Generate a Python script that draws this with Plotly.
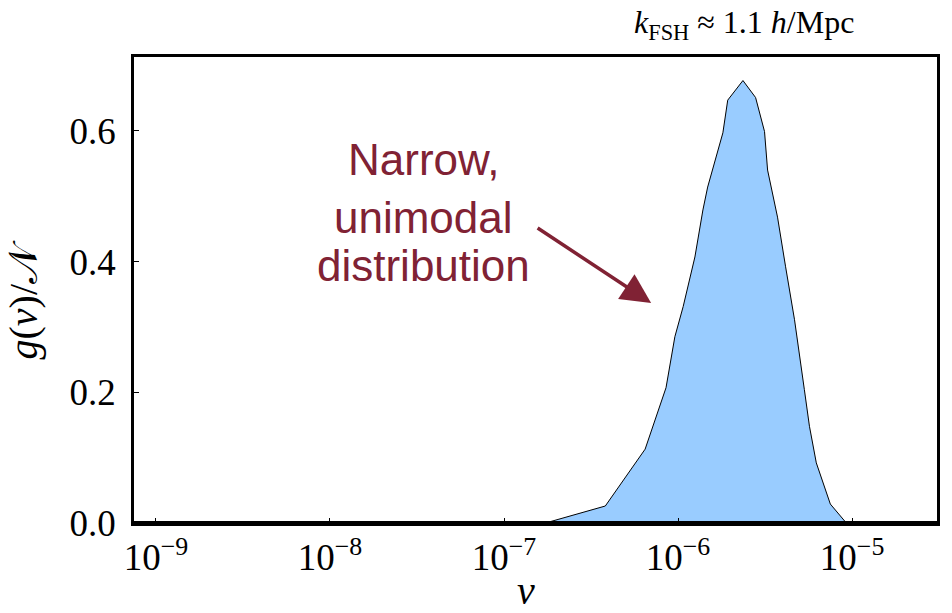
import plotly.graph_objects as go

# Sampled distribution g(v)/N versus v (log-spaced v)
v_values = [1.73e-7, 3.82e-7, 6.47e-7, 8.53e-7, 9.59e-7, 1.07e-6, 1.25e-6, 1.39e-6,
            1.48e-6, 1.81e-6, 1.93e-6, 2.36e-6, 2.79e-6, 3.14e-6, 3.27e-6, 3.73e-6,
            4.15e-6, 4.67e-6, 5.32e-6, 5.69e-6, 6.23e-6, 7.50e-6, 9.27e-6]
g_values = [0.0, 0.026, 0.113, 0.207, 0.285, 0.331, 0.407, 0.479,
            0.514, 0.597, 0.647, 0.677, 0.651, 0.599, 0.540, 0.468,
            0.392, 0.311, 0.204, 0.148, 0.092, 0.029, 0.0]

x_tickvals = [1e-9, 1e-8, 1e-7, 1e-6, 1e-5]
x_ticktext = ["10<sup>−9</sup>", "10<sup>−8</sup>", "10<sup>−7</sup>",
              "10<sup>−6</sup>", "10<sup>−5</sup>"]
y_tickvals = [0.0, 0.2, 0.4, 0.6]

SERIF = "Liberation Serif, DejaVu Serif, serif"
SANS = "Liberation Sans, Arial, sans-serif"
RED = "rgb(128,34,52)"

fig = go.Figure()
fig.add_trace(go.Scatter(
    x=v_values, y=g_values, mode="lines",
    line=dict(color="black", width=1),
    fill="tozeroy", fillcolor="rgb(153,204,255)",
    hoverinfo="skip", showlegend=False,
))

fig.update_layout(
    width=952, height=613,
    margin=dict(l=134, r=12, t=57, b=90),
    paper_bgcolor="white", plot_bgcolor="white",
    xaxis=dict(
        type="log", range=[-9.126, -4.512],
        tickvals=x_tickvals, ticktext=x_ticktext,
        ticks="inside", ticklen=5, tickwidth=1, tickcolor="black",
        showgrid=False, zeroline=False,
        showline=True, linecolor="black", linewidth=2.5, mirror=True,
        tickfont=dict(family=SERIF, size=37, color="black"),
    ),
    yaxis=dict(
        range=[0, 0.713], tickvals=y_tickvals, tickformat=".1f",
        ticks="inside", ticklen=5, tickwidth=1, tickcolor="black",
        showgrid=False, zeroline=False,
        showline=True, linecolor="black", linewidth=2.5, mirror=True,
        tickfont=dict(family=SERIF, size=37, color="black"),
        ticklabelstandoff=8,
    ),
)

# heavier baseline along the bottom of the frame
fig.add_shape(type="line", xref="paper", yref="paper", x0=0, x1=1, y0=0, y1=0,
              line=dict(color="black", width=4))

annotations = [
    dict(text="<i>k</i><sub>FSH</sub> ≈ 1.1 <i>h</i>/Mpc", x=0.76, y=1.07,
         font=dict(family=SERIF, size=32, color="black")),
    dict(text="<i>v</i>", x=0.488, y=-0.145,
         font=dict(family=SERIF, size=40, color="black")),
    dict(text="<i>g</i>(<i>v</i>)/𝒩", x=-0.138, y=0.48, textangle=-90,
         font=dict(family=SERIF, size=40, color="black")),
    dict(text="Narrow,", x=0.361, y=0.781, font=dict(family=SANS, size=44, color=RED)),
    dict(text="unimodal", x=0.361, y=0.656, font=dict(family=SANS, size=44, color=RED)),
    dict(text="distribution", x=0.361, y=0.552, font=dict(family=SANS, size=44, color=RED)),
]
for a in annotations:
    fig.add_annotation(xref="paper", yref="paper", showarrow=False,
                       xanchor="center", yanchor="middle", **a)

# arrow pointing at the peak
fig.add_annotation(xref="paper", yref="paper", x=0.644, y=0.472,
                   ax=-115, ay=-76, axref="pixel", ayref="pixel",
                   text="", showarrow=True, arrowhead=2, arrowsize=1.7,
                   arrowwidth=3.5, arrowcolor=RED, standoff=0)

fig.write_html("out.html")
